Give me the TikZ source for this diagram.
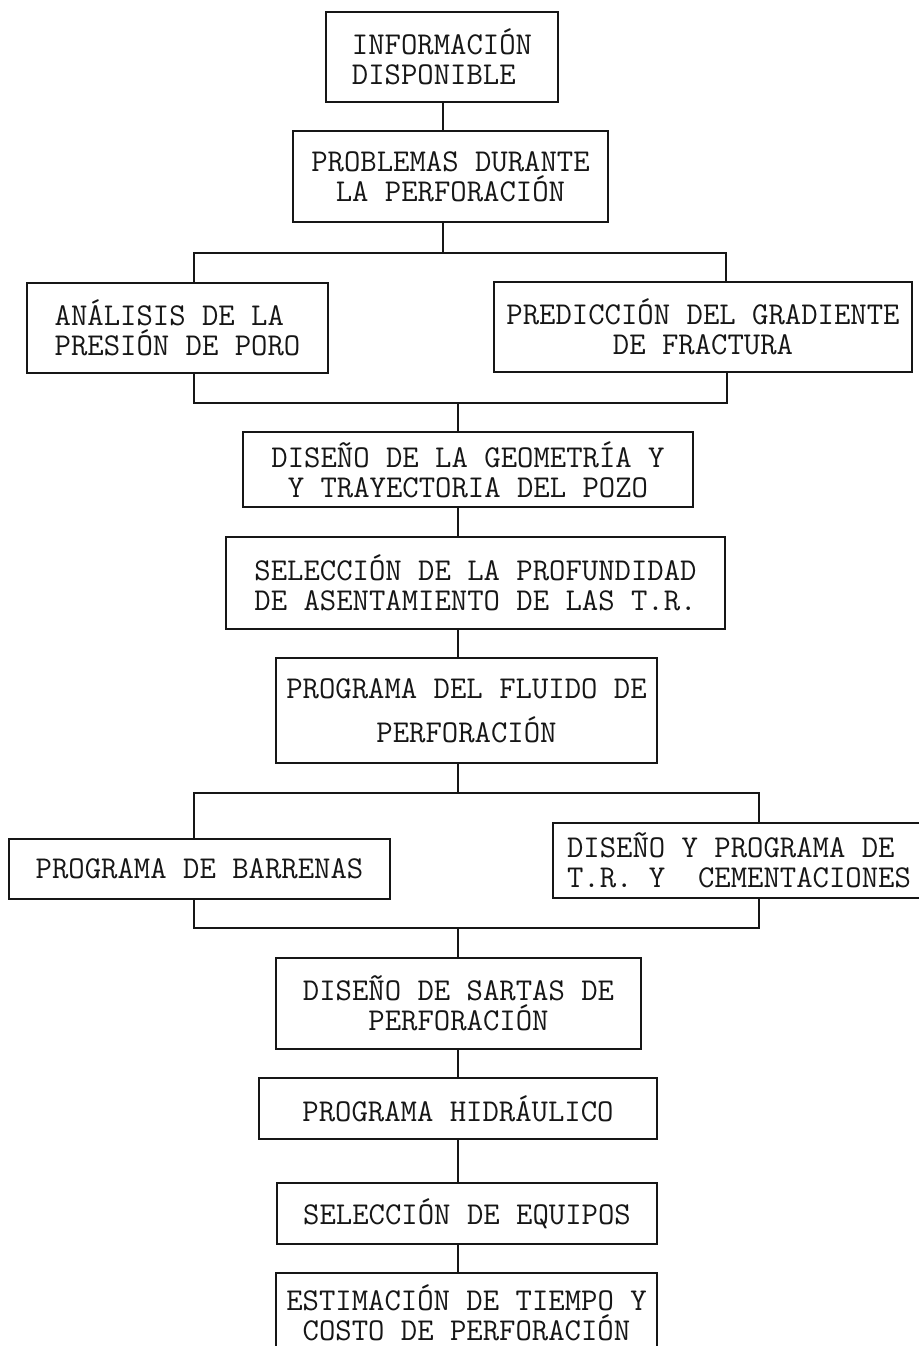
\documentclass[tikz,border=0pt]{standalone}
\usepackage{fontspec}
\usetikzlibrary{positioning, calc}
\definecolor{tinta}{HTML}{161616}
\tikzset{
  caja/.style={rectangle, draw=tinta, line width=1pt, inner sep=0pt, text=tinta,
               font=\ttfamily\frenchspacing\fontsize{15.9}{15}\selectfont, align=center},
  linea/.style={draw=tinta, line width=1pt}
}

\begin{document}
\begin{tikzpicture}[x=0.5pt, y=-0.5pt]
  \fill [white] (0,0) rectangle (919,1346);
  \useasboundingbox (0,0) rectangle (919,1346);
  % cajas del diagrama
  \node (info) [caja, align=left, minimum width=116pt, minimum height=45pt] at (442,57)
        {INFORMACIÓN\\DISPONIBLE};
  \node (prob) [caja, minimum width=157.5pt, minimum height=45.5pt] at (450.5,176.5)
        {PROBLEMAS DURANTE\\LA PERFORACIÓN};
  \node (poro) [caja, align=left, minimum width=150.5pt, minimum height=45pt] at (177.5,327.5)
        {ANÁLISIS DE LA\\PRESIÓN DE PORO};
  \node (fractura) [caja, minimum width=209pt, minimum height=45pt] at (703,327)
        {PREDICCIÓN DEL GRADIENTE\\DE FRACTURA};
  \node (geom) [caja, minimum width=225pt, minimum height=37.5pt] at (468,469.5)
        {DISEÑO DE LA GEOMETRÍA Y\\Y TRAYECTORIA DEL POZO};
  \node (prof) [caja, align=left, minimum width=249.5pt, minimum height=46pt] at (475.5,583)
        {SELECCIÓN DE LA PROFUNDIDAD\\DE ASENTAMIENTO DE LAS T.R.};
  \node (fluido) [caja, minimum width=190.5pt, minimum height=52.5pt] at (466.5,710.5)
        {PROGRAMA DEL FLUIDO DE\\[7pt]PERFORACIÓN};
  \node (barrenas) [caja, minimum width=190.5pt, minimum height=30pt] at (199.5,869)
        {PROGRAMA DE BARRENAS};
  \node (cementa) [caja, align=left, minimum width=186pt, minimum height=37.5pt] at (739,860.5)
        {DISEÑO Y PROGRAMA DE\\T.R. Y\ \ CEMENTACIONES};
  \node (sartas) [caja, minimum width=182.5pt, minimum height=45.5pt] at (458.5,1003.5)
        {DISEÑO DE SARTAS DE\\PERFORACIÓN};
  \node (hidra) [caja, minimum width=199pt, minimum height=30.5pt] at (458,1108.5)
        {PROGRAMA HIDRÁULICO};
  \node (equipos) [caja, minimum width=190pt, minimum height=30.5pt] at (467,1213.5)
        {SELECCIÓN DE EQUIPOS};
  \node (costo) [caja, minimum width=190.5pt, minimum height=40pt] at (466.5,1313)
        {ESTIMACIÓN DE TIEMPO Y\\COSTO DE PERFORACIÓN};
  % ejes y uniones
  \coordinate (ejea) at (443,0);
  \coordinate (ejeb) at (458,0);
  \coordinate (s1) at (443,253);
  \coordinate (s1i) at (194,253);
  \coordinate (s1d) at (726,253);
  \coordinate (s2) at (458,403);
  \coordinate (s2i) at (194,403);
  \coordinate (s2d) at (727,403);
  \coordinate (s3) at (458,793);
  \coordinate (s3i) at (194,793);
  \coordinate (s3d) at (759,793);
  \coordinate (s4) at (458,928);
  \coordinate (s4i) at (194,928);
  \coordinate (s4d) at (759,928);
  % conectores
  \draw [linea] (ejea |- info.south) -- (ejea |- prob.north);
  \draw [linea] (ejea |- prob.south) -- (s1);
  \draw [linea] (s1i |- poro.north) -- (s1i) -- (s1d) -- (s1d |- fractura.north);
  \draw [linea] (s2i |- poro.south) -- (s2i) -- (s2d) -- (s2d |- fractura.south);
  \draw [linea] (s2) -- (s2 |- geom.north);
  \draw [linea] (ejeb |- geom.south) -- (ejeb |- prof.north);
  \draw [linea] (ejeb |- prof.south) -- (ejeb |- fluido.north);
  \draw [linea] (ejeb |- fluido.south) -- (s3);
  \draw [linea] (s3i |- barrenas.north) -- (s3i) -- (s3d) -- (s3d |- cementa.north);
  \draw [linea] (s4i |- barrenas.south) -- (s4i) -- (s4d) -- (s4d |- cementa.south);
  \draw [linea] (s4) -- (s4 |- sartas.north);
  \draw [linea] (ejeb |- sartas.south) -- (ejeb |- hidra.north);
  \draw [linea] (ejeb |- hidra.south) -- (ejeb |- equipos.north);
  \draw [linea] (ejeb |- equipos.south) -- (ejeb |- costo.north);
\end{tikzpicture}
\end{document}
